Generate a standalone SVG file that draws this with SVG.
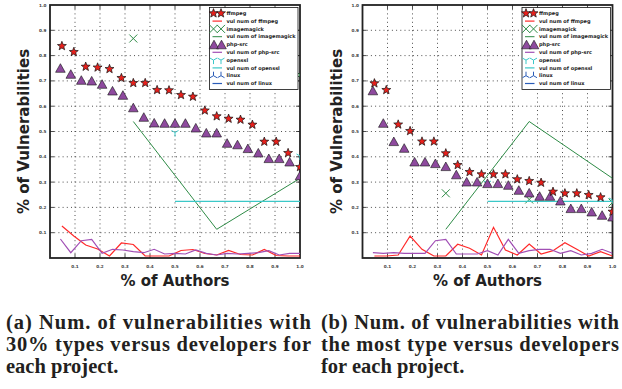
<svg xmlns="http://www.w3.org/2000/svg" xmlns:xlink="http://www.w3.org/1999/xlink" width="622" height="389" viewBox="0 0 622 389">
<style>
.frame{fill:none;stroke:#222;stroke-width:1.8}
.grid{fill:none;stroke:#222;stroke-width:0.8;stroke-dasharray:1 3.2}
.tick{fill:none;stroke:#222;stroke-width:0.8}
.tl{font-family:"DejaVu Sans",sans-serif;font-size:4.2px;font-weight:bold;fill:#444}
.axl{font-family:"DejaVu Sans",sans-serif;font-size:15px;font-weight:bold;fill:#222}
.lg{font-family:"DejaVu Sans",sans-serif;font-size:5px;font-weight:bold;fill:#222}
.cap{font-family:"Liberation Serif",serif;font-size:20.5px;font-weight:bold;fill:#231f20}
.red{fill:none;stroke:#ff2a2a;stroke-width:1.2}
.pur{fill:none;stroke:#a14fb5;stroke-width:1.2}
.grn{fill:none;stroke:#2e8b46;stroke-width:1}
.cyn{fill:none;stroke:#3cc8c8;stroke-width:1.2}
.blu{fill:none;stroke:#2a5cb8;stroke-width:1.2}
.lbox{fill:#fff;stroke:#111;stroke-width:0.8}
</style>
<defs>
<path id="star" d="M0,-4.7 L1.17,-1.6 L4.47,-1.45 L1.89,0.61 L2.76,3.8 L0,2 L-2.76,3.8 L-1.89,0.61 L-4.47,-1.45 L-1.17,-1.6 Z" fill="#e8201c" stroke="#111" stroke-width="0.7"/>
<path id="tri" d="M0,-4.3 L4.8,4.3 L-4.8,4.3 Z" fill="#8e4a9e" stroke="#111" stroke-width="0.6"/>
<path id="xm" d="M-4,-4 L4,4 M-4,4 L4,-4" stroke="#2e8b46" stroke-width="1" fill="none"/>
<path id="tdn" d="M0,0 V4 M0,0 L-3.5,-2 M0,0 L3.5,-2" stroke="#3cc8c8" stroke-width="1" fill="none"/>
<path id="tup" d="M0,0 V-4 M0,0 L-3.5,2 M0,0 L3.5,2" stroke="#2a5cb8" stroke-width="1" fill="none"/>
<clipPath id="clipA"><rect x="50" y="5" width="250" height="253"/></clipPath>
<clipPath id="clipB"><rect x="362.5" y="5" width="250" height="253"/></clipPath>
<g id="axes">
<path class="grid" d="M75 5V258M100 5V258M125 5V258M150 5V258M175 5V258M200 5V258M225 5V258M250 5V258M275 5V258M50 232.7H300M50 207.4H300M50 182.1H300M50 156.8H300M50 131.5H300M50 106.2H300M50 80.9H300M50 55.6H300M50 30.3H300"/>
<path class="tick" d="M50 232.7h4M50 207.4h4M50 182.1h4M50 156.8h4M50 131.5h4M50 106.2h4M50 80.9h4M50 55.6h4M50 30.3h4M300 232.7h-4M300 207.4h-4M300 182.1h-4M300 156.8h-4M300 131.5h-4M300 106.2h-4M300 80.9h-4M300 55.6h-4M300 30.3h-4M75 258v-4M100 258v-4M125 258v-4M150 258v-4M175 258v-4M200 258v-4M225 258v-4M250 258v-4M275 258v-4M75 5v4M100 5v4M125 5v4M150 5v4M175 5v4M200 5v4M225 5v4M250 5v4M275 5v4"/>
<rect class="frame" x="50" y="5" width="250" height="253"/>
<g class="tl" text-anchor="end">
<text x="46.5" y="234.2">0.1</text><text x="46.5" y="208.9">0.2</text><text x="46.5" y="183.6">0.3</text><text x="46.5" y="158.3">0.4</text><text x="46.5" y="133">0.5</text><text x="46.5" y="107.7">0.6</text><text x="46.5" y="82.4">0.7</text><text x="46.5" y="57.1">0.8</text><text x="46.5" y="31.8">0.9</text><text x="46.5" y="6.5">1.0</text>
</g>
<g class="tl" text-anchor="middle">
<text x="75" y="268">0.1</text><text x="100" y="268">0.2</text><text x="125" y="268">0.3</text><text x="150" y="268">0.4</text><text x="175" y="268">0.5</text><text x="200" y="268">0.6</text><text x="225" y="268">0.7</text><text x="250" y="268">0.8</text><text x="275" y="268">0.9</text><text x="300" y="268">1.0</text>
</g>
<text class="axl" x="175" y="286" text-anchor="middle">% of Authors</text>
<text class="axl" transform="translate(29,131.5) rotate(-90)" text-anchor="middle">% of Vulnerabilities</text>
</g>
<g id="legend">
<rect class="lbox" x="209.5" y="7.5" width="88.5" height="82"/>
<use href="#star" x="213.5" y="13.3"/><use href="#star" x="221" y="13.3"/>
<path class="red" d="M212.5 21.1H222"/>
<use href="#xm" x="213.5" y="28.9"/><use href="#xm" x="221" y="28.9"/>
<path class="grn" d="M212.5 36.7H222" stroke-width="1.2"/>
<use href="#tri" x="214" y="44.5"/><use href="#tri" x="221.5" y="44.5"/>
<path class="pur" d="M212.5 52.3H222"/>
<use href="#tdn" x="213.5" y="60.1"/><use href="#tdn" x="221" y="60.1"/>
<path class="cyn" d="M212.5 67.9H222"/>
<use href="#tup" x="213.5" y="75.7"/><use href="#tup" x="221" y="75.7"/>
<path class="blu" d="M212.5 83.5H222"/>
<g class="lg">
<text x="226.5" y="15">ffmpeg</text>
<text x="226.5" y="22.8">vul num of ffmpeg</text>
<text x="226.5" y="30.6">imagemagick</text>
<text x="226.5" y="38.4">vul num of imagemagick</text>
<text x="226.5" y="46.2">php-src</text>
<text x="226.5" y="54">vul num of php-src</text>
<text x="226.5" y="61.8">openssl</text>
<text x="226.5" y="69.6">vul num of openssl</text>
<text x="226.5" y="77.4">linux</text>
<text x="226.5" y="85.2">vul num of linux</text>
</g>
</g>
</defs>

<g id="plot-a">
<use href="#axes"/>
<g id="data-a" clip-path="url(#clipA)">
<polyline class="red" points="61.9,226 73.8,236 85.7,245 97.6,249 109.5,256 121.4,243 133.3,244.5 145.2,256 157.1,256 169,256 181,250.5 192.9,249.5 204.8,253.5 216.7,255 228.6,250.5 240.5,254.5 252.4,255 264.3,249.5 276.2,255.5 288.1,256 300,256"/>
<polyline class="pur" points="60.4,239 70.8,252.7 81.3,240.7 91.7,239.3 102.1,253.3 112.5,249.3 122.9,250 133.3,251.7 143.8,252.7 154.2,249.3 164.6,254 175,253.3 185.4,254 195.8,250 206.3,253.3 216.7,255 227.1,253.3 237.5,254 247.9,253.3 258.3,252.7 268.8,250.7 279.2,255 289.6,253.3 300,253.3"/>
<polyline class="grn" points="133.3,121.5 216.7,229.3 300,178.3"/>
<path class="cyn" d="M175 201.3H300"/>
<use href="#xm" x="133.3" y="38.5"/><use href="#xm" x="300" y="75"/>
<use href="#tdn" x="175" y="132.5"/><use href="#tdn" x="300" y="156"/>
<g id="php-a">
<use href="#tri" x="60.4" y="68"/><use href="#tri" x="70.8" y="74"/><use href="#tri" x="81.3" y="80"/><use href="#tri" x="91.7" y="80.7"/><use href="#tri" x="102.1" y="84"/><use href="#tri" x="112.5" y="90.7"/><use href="#tri" x="122.9" y="95"/><use href="#tri" x="133.3" y="107.5"/><use href="#tri" x="143.8" y="117"/><use href="#tri" x="154.2" y="122.7"/><use href="#tri" x="164.6" y="123"/><use href="#tri" x="175" y="123"/><use href="#tri" x="185.4" y="123"/><use href="#tri" x="195.8" y="127.7"/><use href="#tri" x="206.3" y="132.7"/><use href="#tri" x="216.7" y="132.7"/><use href="#tri" x="227.1" y="143"/><use href="#tri" x="237.5" y="144.5"/><use href="#tri" x="247.9" y="148.3"/><use href="#tri" x="258.3" y="152.7"/><use href="#tri" x="268.8" y="158.3"/><use href="#tri" x="279.2" y="158.3"/><use href="#tri" x="289.6" y="161.7"/><use href="#tri" x="300" y="175.5"/>
</g>
<g id="ffmpeg-a">
<use href="#star" x="61.9" y="46"/><use href="#star" x="73.8" y="52"/><use href="#star" x="85.7" y="66.7"/><use href="#star" x="97.6" y="67.5"/><use href="#star" x="109.5" y="69"/><use href="#star" x="121.4" y="78"/><use href="#star" x="133.3" y="83"/><use href="#star" x="145.2" y="83"/><use href="#star" x="157.1" y="90"/><use href="#star" x="169" y="90.3"/><use href="#star" x="181" y="95"/><use href="#star" x="192.9" y="96.7"/><use href="#star" x="204.8" y="110.5"/><use href="#star" x="216.7" y="116.3"/><use href="#star" x="228.6" y="118.7"/><use href="#star" x="240.5" y="119.7"/><use href="#star" x="252.4" y="124.7"/><use href="#star" x="264.3" y="141.7"/><use href="#star" x="276.2" y="141.7"/><use href="#star" x="288.1" y="153"/><use href="#star" x="300" y="167"/>
</g>
</g>
<use id="legend-a" href="#legend"/>
</g>

<g id="plot-b">
<use href="#axes" transform="translate(312.5,0)"/>
<g id="data-b" clip-path="url(#clipB)">
<polyline class="red" points="374.4,256 386.3,256 398.2,255 410.1,236 422,249.3 433.9,256 445.8,256 457.7,244.3 469.6,248.3 481.5,255 493.5,227.3 505.4,250 517.3,255 529.2,244 541.1,254 553,250.7 564.9,242.7 576.8,249.3 588.7,256 600.6,251.7 612.5,256"/>
<polyline class="pur" points="372.9,252.7 383.3,253.3 393.8,252.7 404.2,253.3 414.6,253.3 425,253.3 435.4,240.7 445.8,239.3 456.3,254 466.7,254 477.1,254 487.5,250.7 497.9,255 508.3,239.3 518.8,253.3 529.2,250.7 539.6,249.3 550,249.3 560.4,253.3 570.8,250.7 581.3,255 591.7,253.3 602.1,249.3 612.5,253.3"/>
<polyline class="grn" points="445.8,229.3 529.2,121.5 612.5,178.3"/>
<use href="#xm" x="445.8" y="193.3"/><use href="#xm" x="529.2" y="199.5"/><use href="#xm" x="612.5" y="202.5"/>
<path class="cyn" d="M487.5 201.3H612.5"/>
<use href="#tdn" x="487.5" y="183"/><use href="#tdn" x="612.5" y="200"/>
<g id="php-b">
<use href="#tri" x="372.9" y="90.5"/><use href="#tri" x="383.3" y="123"/><use href="#tri" x="393.8" y="141.3"/><use href="#tri" x="404.2" y="148"/><use href="#tri" x="414.6" y="161.7"/><use href="#tri" x="425" y="161.7"/><use href="#tri" x="435.4" y="163.3"/><use href="#tri" x="445.8" y="166.3"/><use href="#tri" x="456.3" y="174.5"/><use href="#tri" x="466.7" y="181.7"/><use href="#tri" x="477.1" y="181.7"/><use href="#tri" x="487.5" y="183.3"/><use href="#tri" x="497.9" y="183.3"/><use href="#tri" x="508.3" y="185"/><use href="#tri" x="518.8" y="190"/><use href="#tri" x="529.2" y="192.7"/><use href="#tri" x="539.6" y="196"/><use href="#tri" x="550" y="196"/><use href="#tri" x="560.4" y="200.7"/><use href="#tri" x="570.8" y="208.3"/><use href="#tri" x="581.3" y="208.3"/><use href="#tri" x="591.7" y="211.7"/><use href="#tri" x="602.1" y="215"/><use href="#tri" x="612.5" y="216.7"/>
</g>
<g id="ffmpeg-b">
<use href="#star" x="374.4" y="83.3"/><use href="#star" x="386.3" y="90"/><use href="#star" x="398.2" y="124.5"/><use href="#star" x="410.1" y="131"/><use href="#star" x="422" y="141.5"/><use href="#star" x="433.9" y="141.5"/><use href="#star" x="445.8" y="153.3"/><use href="#star" x="457.7" y="165"/><use href="#star" x="469.6" y="172"/><use href="#star" x="481.5" y="174.3"/><use href="#star" x="493.5" y="174.3"/><use href="#star" x="505.4" y="174.3"/><use href="#star" x="517.3" y="179.3"/><use href="#star" x="529.2" y="181"/><use href="#star" x="541.1" y="182.7"/><use href="#star" x="553" y="191.7"/><use href="#star" x="564.9" y="193.3"/><use href="#star" x="576.8" y="193.3"/><use href="#star" x="588.7" y="195"/><use href="#star" x="600.6" y="197.3"/><use href="#star" x="612.5" y="211.7"/>
</g>
</g>
<use id="legend-b" href="#legend" transform="translate(312.5,0)"/>
</g>

<g id="caption-a" class="cap">
<text x="6" y="328.5" textLength="305" lengthAdjust="spacing">(a) Num. of vulnerabilities with</text>
<text x="6" y="351" textLength="305" lengthAdjust="spacing">30% types versus developers for</text>
<text x="6" y="373">each project.</text>
</g>
<g id="caption-b" class="cap">
<text x="321" y="328.5" textLength="298" lengthAdjust="spacing">(b) Num. of vulnerabilities with</text>
<text x="321" y="351" textLength="298" lengthAdjust="spacing">the most type versus developers</text>
<text x="321" y="373">for each project.</text>
</g>
</svg>
